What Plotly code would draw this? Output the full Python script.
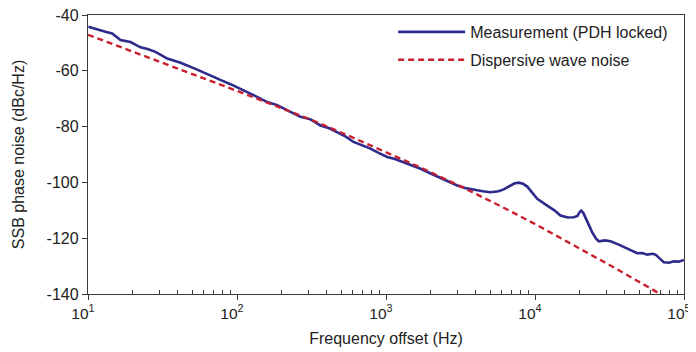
import plotly.graph_objects as go

# Measurement (PDH locked): log10(frequency offset / Hz) and SSB phase noise (dBc/Hz)
meas_logf = [1.003, 1.060, 1.117, 1.162, 1.218, 1.285, 1.352, 1.400, 1.453, 1.532, 1.621, 1.721,
             1.780, 1.844, 1.900, 1.956, 2.044, 2.111, 2.203, 2.270, 2.359, 2.426, 2.493, 2.560,
             2.620, 2.672, 2.730, 2.782, 2.840, 2.896, 2.950, 3.008, 3.060, 3.117, 3.170, 3.232,
             3.300, 3.366, 3.420, 3.478, 3.530, 3.587, 3.650, 3.701,
             3.755, 3.790, 3.830, 3.860, 3.891, 3.920, 3.948, 3.980, 4.015, 4.082, 4.130,
             4.171, 4.220, 4.260, 4.285, 4.300, 4.310, 4.325, 4.339, 4.360,
             4.384, 4.410, 4.428, 4.470, 4.507, 4.562, 4.619, 4.686, 4.720, 4.753, 4.790,
             4.809, 4.840, 4.864, 4.900, 4.931, 4.965, 4.999]
meas_db = [-44.2, -45.2, -46.0, -46.6, -49.0, -49.7, -51.6, -52.2, -53.2, -55.6, -57.1, -59.3,
           -60.6, -62.2, -63.5, -64.8, -66.9, -68.7, -71.2, -72.3, -74.7, -76.5, -77.4, -79.6,
           -80.6, -81.9, -83.6, -85.5, -86.6, -87.9, -89.4, -90.9, -91.6, -92.7, -93.8, -95.1,
           -96.8, -98.5, -99.8, -101.1, -102.0, -102.6, -103.2, -103.5,
           -103.2, -102.5, -101.2, -100.4, -100.1, -100.5, -101.5, -103.8, -105.9, -108.3, -110.0,
           -111.9, -112.6, -112.5, -112.0, -110.6, -110.1, -111.0, -112.8, -115.2,
           -117.9, -120.2, -121.1, -120.8, -121.1, -122.3, -123.8, -125.4, -125.3, -125.9, -125.6,
           -125.9, -127.4, -128.6, -128.8, -128.3, -128.4, -127.8]

# Dispersive wave noise
disp_logf = [1.0, 1.25, 1.5, 1.75, 2.0, 2.25, 2.5, 2.75, 3.0, 3.25, 3.5, 3.75,
             4.0, 4.25, 4.5, 4.75, 4.85]
disp_db = [-47.1, -52.1, -57.1, -62.1, -67.2, -72.4, -77.6, -83.3, -89.1, -95.1,
           -101.4, -108.0, -114.9, -122.1, -129.6, -137.2, -140.3]

meas_f = [10 ** v for v in meas_logf]
disp_f = [10 ** v for v in disp_logf]

x_tickvals = [10, 100, 1000, 10000, 100000]
x_ticktext = ["10<sup>1</sup>", "10<sup>2</sup>", "10<sup>3</sup>", "10<sup>4</sup>", "10<sup>5</sup>"]
x_minor_vals = [m * d for d in [10, 100, 1000, 10000] for m in range(2, 10)]
y_tickvals = [-40, -60, -80, -100, -120, -140]
y_ticktext = ["-40", "-60", "-80", "-100", "-120", "-140"]
names = ["Measurement (PDH locked)", "Dispersive wave noise"]

font_family = "Liberation Sans, Arial, sans-serif"
axis_color = "#3a3a3a"

fig = go.Figure()
fig.add_trace(go.Scatter(x=meas_f, y=meas_db, mode="lines", name=names[0],
                         legendgroup="a",
                         line=dict(color="#2e2a8c", width=2.6)))
fig.add_trace(go.Scatter(x=disp_f, y=disp_db, mode="lines", name=names[1],
                         legendgroup="b",
                         line=dict(color="#c8202f", width=2.4, dash="6px,4px")))

# page body has an 8px margin, so the figure is sized/offset to compensate
fig.update_layout(
    width=696, height=344,
    margin=dict(l=80, r=20, t=7, b=58),
    plot_bgcolor="white", paper_bgcolor="white",
    font=dict(family=font_family, size=16, color="#222222"),
    showlegend=True,
    legend=dict(x=0.512, y=1.0, xanchor="left", yanchor="top",
                bgcolor="rgba(0,0,0,0)", borderwidth=0,
                font=dict(size=16), itemwidth=67,
                traceorder="grouped", tracegroupgap=4),
    xaxis=dict(type="log", range=[1, 5], tickvals=x_tickvals, ticktext=x_ticktext,
               automargin=False, ticklabeloverflow="allow", ticklabelshift=-5,
               showgrid=False, zeroline=False,
               showline=True, linecolor=axis_color, linewidth=1.3, mirror=True,
               ticks="outside", ticklen=5, tickcolor=axis_color, tickwidth=1.2,
               tickfont=dict(size=15.5),
               minor=dict(tickvals=x_minor_vals, ticks="inside", ticklen=4,
                          tickcolor=axis_color, tickwidth=1, showgrid=False),
               title=dict(text="Frequency offset (Hz)", font=dict(size=16),
                          standoff=12)),
    yaxis=dict(range=[-140, -40], tickvals=y_tickvals, ticktext=y_ticktext,
               automargin=False, ticklabeloverflow="allow",
               showgrid=False, zeroline=False,
               showline=True, linecolor=axis_color, linewidth=1.3, mirror=True,
               ticks="outside", ticklen=5, tickcolor=axis_color, tickwidth=1.2,
               tickfont=dict(size=16),
               title=dict(text="SSB phase noise (dBc/Hz)", font=dict(size=16),
                          standoff=18)),
)

fig.write_html("out.html")
